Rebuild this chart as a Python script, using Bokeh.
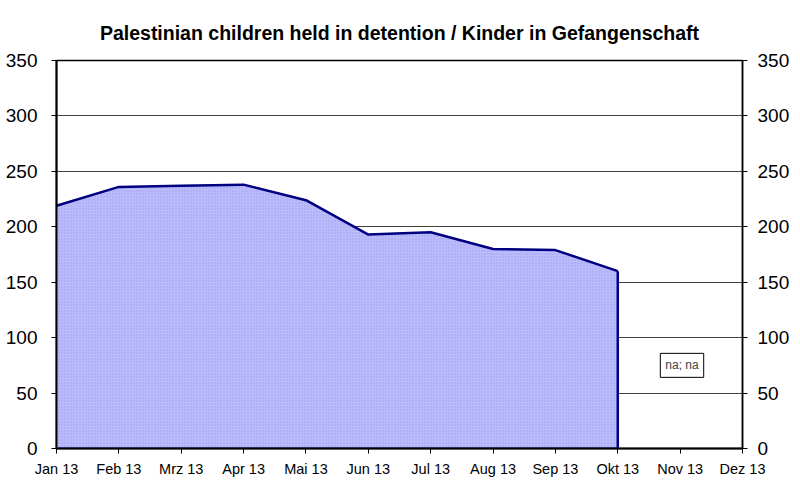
from bokeh.plotting import figure
from bokeh.models import Range1d, LinearAxis, FixedTicker, Label, Title
from bokeh.embed import file_html
from bokeh.resources import INLINE

months = ["Jan 13", "Feb 13", "Mrz 13", "Apr 13", "Mai 13", "Jun 13",
          "Jul 13", "Aug 13", "Sep 13", "Okt 13", "Nov 13", "Dez 13"]
values = [219, 236, 237, 238, 224, 193, 195, 180, 179, 160]
y_ticks = [0, 50, 100, 150, 200, 250, 300, 350]
title_text = "Palestinian children held in detention / Kinder in Gefangenschaft"
note_text = "na; na"
note_y = 75

FONT = "Liberation Sans"

x_idx = list(range(len(values)))
last = x_idx[-1]

p = figure(frame_width=686, frame_height=388, output_backend="svg",
           toolbar_location=None, x_range=Range1d(0, len(months) - 1),
           y_range=Range1d(0, 350), min_border_left=56, min_border_right=44,
           min_border_top=60, min_border_bottom=10)
p.title = None
p.add_layout(Title(text=title_text, text_font=FONT, text_font_size="19.5px",
                   text_font_style="bold", text_color="black", align="center",
                   offset=0, standoff=34), "above")

p.background_fill_color = "white"
p.border_fill_color = "white"
p.outline_line_color = "black"
p.outline_line_width = 1.5

p.xgrid.visible = False
p.ygrid.ticker = FixedTicker(ticks=y_ticks)
p.ygrid.grid_line_color = "#404040"
p.ygrid.grid_line_width = 1

# area polygon built from data
poly_x = x_idx + [last, 0]
poly_y = values + [0, 0]
p.patch(poly_x, poly_y, fill_color="#BCBCFB", line_color=None)
p.patch(poly_x, poly_y, fill_color=None, line_color=None,
        hatch_pattern="dot", hatch_color="#9C9CF2", hatch_scale=3, hatch_weight=0.6)
p.line(x_idx, values, line_color="#000080", line_width=2.5)
p.line([last, last], [values[-1], 0], line_color="#000080", line_width=2.5)
p.line([0, last], [0, 0], line_color="#000080", line_width=2)

# axes
for ax in p.xaxis:
    ax.ticker = FixedTicker(ticks=list(range(len(months))))
    ax.major_label_overrides = {i: m for i, m in enumerate(months)}
    ax.major_label_text_font = FONT
    ax.major_label_text_font_size = "14.5px"
    ax.major_label_text_color = "black"
    ax.major_label_standoff = 7
    ax.major_tick_out = 5
    ax.major_tick_in = 0
    ax.minor_tick_out = 0
    ax.minor_tick_in = 0
    ax.axis_line_color = "black"
    ax.axis_line_width = 2
    ax.major_tick_line_color = "black"

for ax in p.yaxis:
    ax.ticker = FixedTicker(ticks=y_ticks)
    ax.major_label_text_font = FONT
    ax.major_label_text_font_size = "19px"
    ax.major_label_text_color = "black"
    ax.major_label_standoff = 14
    ax.major_tick_out = 5
    ax.major_tick_in = 0
    ax.minor_tick_out = 0
    ax.axis_line_color = "black"
    ax.axis_line_width = 2
    ax.major_tick_line_color = "black"

right = LinearAxis(ticker=FixedTicker(ticks=y_ticks))
right.major_label_text_font = FONT
right.major_label_text_font_size = "19px"
right.major_label_text_color = "black"
right.major_label_standoff = 10
right.major_tick_out = 5
right.major_tick_in = 0
right.minor_tick_out = 0
right.axis_line_color = "black"
right.axis_line_width = 1.5
p.add_layout(right, "right")

p.add_layout(Label(x=10.03, y=note_y, text=note_text, text_font=FONT,
                   text_font_size="12px", text_align="center",
                   text_baseline="middle", border_line_color="black",
                   border_line_width=1, background_fill_color="white",
                   padding=5))

open("out.html", "w").write(file_html(p, INLINE))
